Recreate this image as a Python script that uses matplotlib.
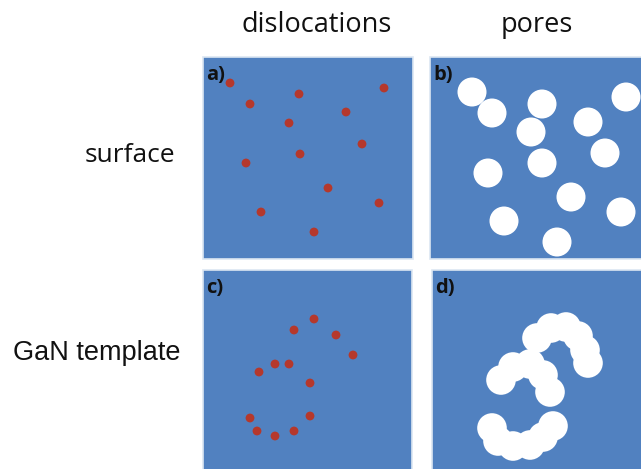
import matplotlib
matplotlib.use('Agg')
import matplotlib.pyplot as plt
from matplotlib.patches import Rectangle, Circle

# column / row headings
col_titles = ['dislocations', 'pores']
col_x = [317, 537]
row_titles = ['surface', 'GaN template']
row_y = [155, 353]

# panels: label, left, top, right, bottom (pixel space)
panels = [
    ('a)', 203, 57, 413, 259),
    ('b)', 430, 57, 645, 259),
    ('c)', 203, 270, 412, 475),
    ('d)', 432, 270, 645, 475),
]

# a) dislocations at the surface
disl_surf_x = [230, 250, 299, 384, 346, 289, 362, 300, 246, 328, 379, 261, 314]
disl_surf_y = [83, 104, 94, 88, 112, 123, 144, 154, 163, 188, 203, 212, 232]

# b) pores at the surface
pore_surf_x = [472, 492, 542, 626, 588, 531, 605, 542, 488, 571, 621, 504, 557]
pore_surf_y = [92, 113, 104, 97, 122, 132, 153, 163, 173, 197, 212, 221, 242]

# c) dislocations in the GaN template
disl_tmpl_x = [314, 294, 336, 353, 275, 289, 259, 310, 310, 250, 257, 294, 275]
disl_tmpl_y = [319, 330, 335, 355, 364, 364, 372, 383, 416, 418, 431, 431, 436]

# d) pore chains in the GaN template
pore_tmpl_x = [537, 551, 566, 578, 585, 588,
               501, 513, 530, 543, 550,
               492, 498, 513, 530, 543, 553]
pore_tmpl_y = [338, 328, 327, 336, 350, 363,
               380, 367, 364, 375, 392,
               428, 441, 446, 445, 437, 426]

blue = '#5181c0'
red = '#b5382c'
ink = '#111111'
calib = ['Open Sans', 'DejaVu Sans']

fig = plt.figure(figsize=(6.41, 4.69), dpi=100)
ax = fig.add_axes([0, 0, 1, 1])
ax.set_xlim(0, 641)
ax.set_ylim(469, 0)
ax.axis('off')

for lab, l, t, r, b in panels:
    ax.add_patch(Rectangle((l, t), r - l, b - t, facecolor=blue,
                           edgecolor='#dce6f2', lw=1.2))
    ax.text(l + 3, t + 18, lab, fontsize=14.5, fontweight='bold',
            va='center', family=calib, color=ink)

for x, y in zip(disl_surf_x, disl_surf_y):
    ax.add_patch(Circle((x, y), 4.4, color=red, lw=0))
for x, y in zip(disl_tmpl_x, disl_tmpl_y):
    ax.add_patch(Circle((x, y), 4.4, color=red, lw=0))
for x, y in zip(pore_surf_x, pore_surf_y):
    ax.add_patch(Circle((x, y), 14.5, color='white', lw=0))
for x, y in zip(pore_tmpl_x, pore_tmpl_y):
    ax.add_patch(Circle((x, y), 14.8, color='white', lw=0))

for s, x in zip(col_titles, col_x):
    ax.text(x, 25, s, fontsize=19.5, ha='center', va='center',
            family=calib, color=ink)

ax.text(130, row_y[0], row_titles[0], fontsize=19, ha='center', va='center',
        family=calib, color=ink)
ax.text(97, row_y[1], row_titles[1], fontsize=19.5, ha='center', va='center',
        family=['Liberation Sans', 'DejaVu Sans'], color=ink)

fig.savefig('out.png', dpi=100)
